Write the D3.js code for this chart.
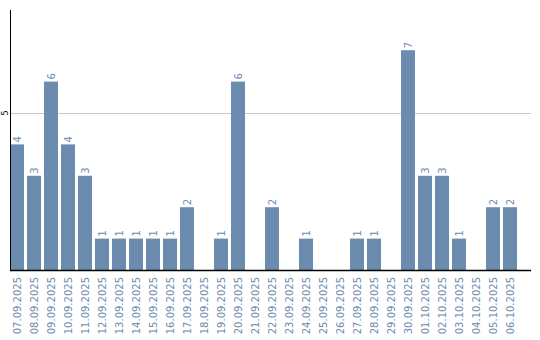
<!DOCTYPE html>
<html><head><meta charset="utf-8">
<script src="https://cdn.jsdelivr.net/npm/d3@7"></script>
<style>body{margin:0;background:#fff}text{font-family:"DejaVu Sans",sans-serif;font-size:10px}</style>
</head><body><svg id="c" width="540" height="340"></svg>
<script>
const categories = ["07.09.2025","08.09.2025","09.09.2025","10.09.2025","11.09.2025","12.09.2025","13.09.2025","14.09.2025","15.09.2025","16.09.2025","17.09.2025","18.09.2025","19.09.2025","20.09.2025","21.09.2025","22.09.2025","23.09.2025","24.09.2025","25.09.2025","26.09.2025","27.09.2025","28.09.2025","29.09.2025","30.09.2025","01.10.2025","02.10.2025","03.10.2025","04.10.2025","05.10.2025","06.10.2025"];
const values = [4,3,6,4,3,1,1,1,1,1,2,0,1,6,0,2,0,1,0,0,1,1,0,7,3,3,1,0,2,2];
const yTicks = [5];

(function(){
const svg = d3.select("#c");
const mL = 10, mR = 531, mT = 10, mB = 270;
const color = "#6b8cae";
const x = d3.scaleBand().domain(categories).range([mL, mL + 30*17 - 3]).paddingInner(3/17).paddingOuter(0);
const y = d3.scaleLinear().domain([0, 8.28]).range([mB, mT]);

svg.selectAll("line.grid").data(yTicks).join("line")
  .attr("x1", mL).attr("x2", mR)
  .attr("y1", d => Math.round(y(d)) + 0.5).attr("y2", d => Math.round(y(d)) + 0.5)
  .attr("stroke", "#c8c8c8").attr("stroke-width", 1);

svg.selectAll("text.yt").data(yTicks).join("text")
  .attr("transform", d => `translate(7.5,${y(d)}) rotate(-90)`)
  .attr("text-anchor", "middle").attr("fill", "#000").style("font-size", "8px").text(d => d);

const data = categories.map((c, i) => ({c, v: values[i]}));
svg.selectAll("rect.bar").data(data.filter(d => d.v > 0)).join("rect")
  .attr("x", d => x(d.c)).attr("width", x.bandwidth())
  .attr("y", d => y(d.v)).attr("height", d => y(0) - y(d.v))
  .attr("fill", color);

svg.selectAll("text.val").data(data.filter(d => d.v > 0)).join("text")
  .attr("transform", d => `translate(${x(d.c) + x.bandwidth()/2},${y(d.v) - 2}) rotate(-90)`)
  .attr("dy", "0.35em").attr("text-anchor", "start").attr("fill", color).text(d => d.v);

svg.selectAll("text.xl").data(categories).join("text")
  .attr("transform", d => `translate(${x(d) + x.bandwidth()/2},277) rotate(-90)`)
  .attr("dy", "0.35em").attr("text-anchor", "end").attr("fill", color).text(d => d);

svg.append("line").attr("x1", mL + 0.5).attr("x2", mL + 0.5).attr("y1", mT).attr("y2", mB + 1)
  .attr("stroke", "#000").attr("stroke-width", 1);
svg.append("line").attr("x1", mL).attr("x2", mR).attr("y1", mB + 0.5).attr("y2", mB + 0.5)
  .attr("stroke", "#000").attr("stroke-width", 1.5);
})();
</script></body></html>
